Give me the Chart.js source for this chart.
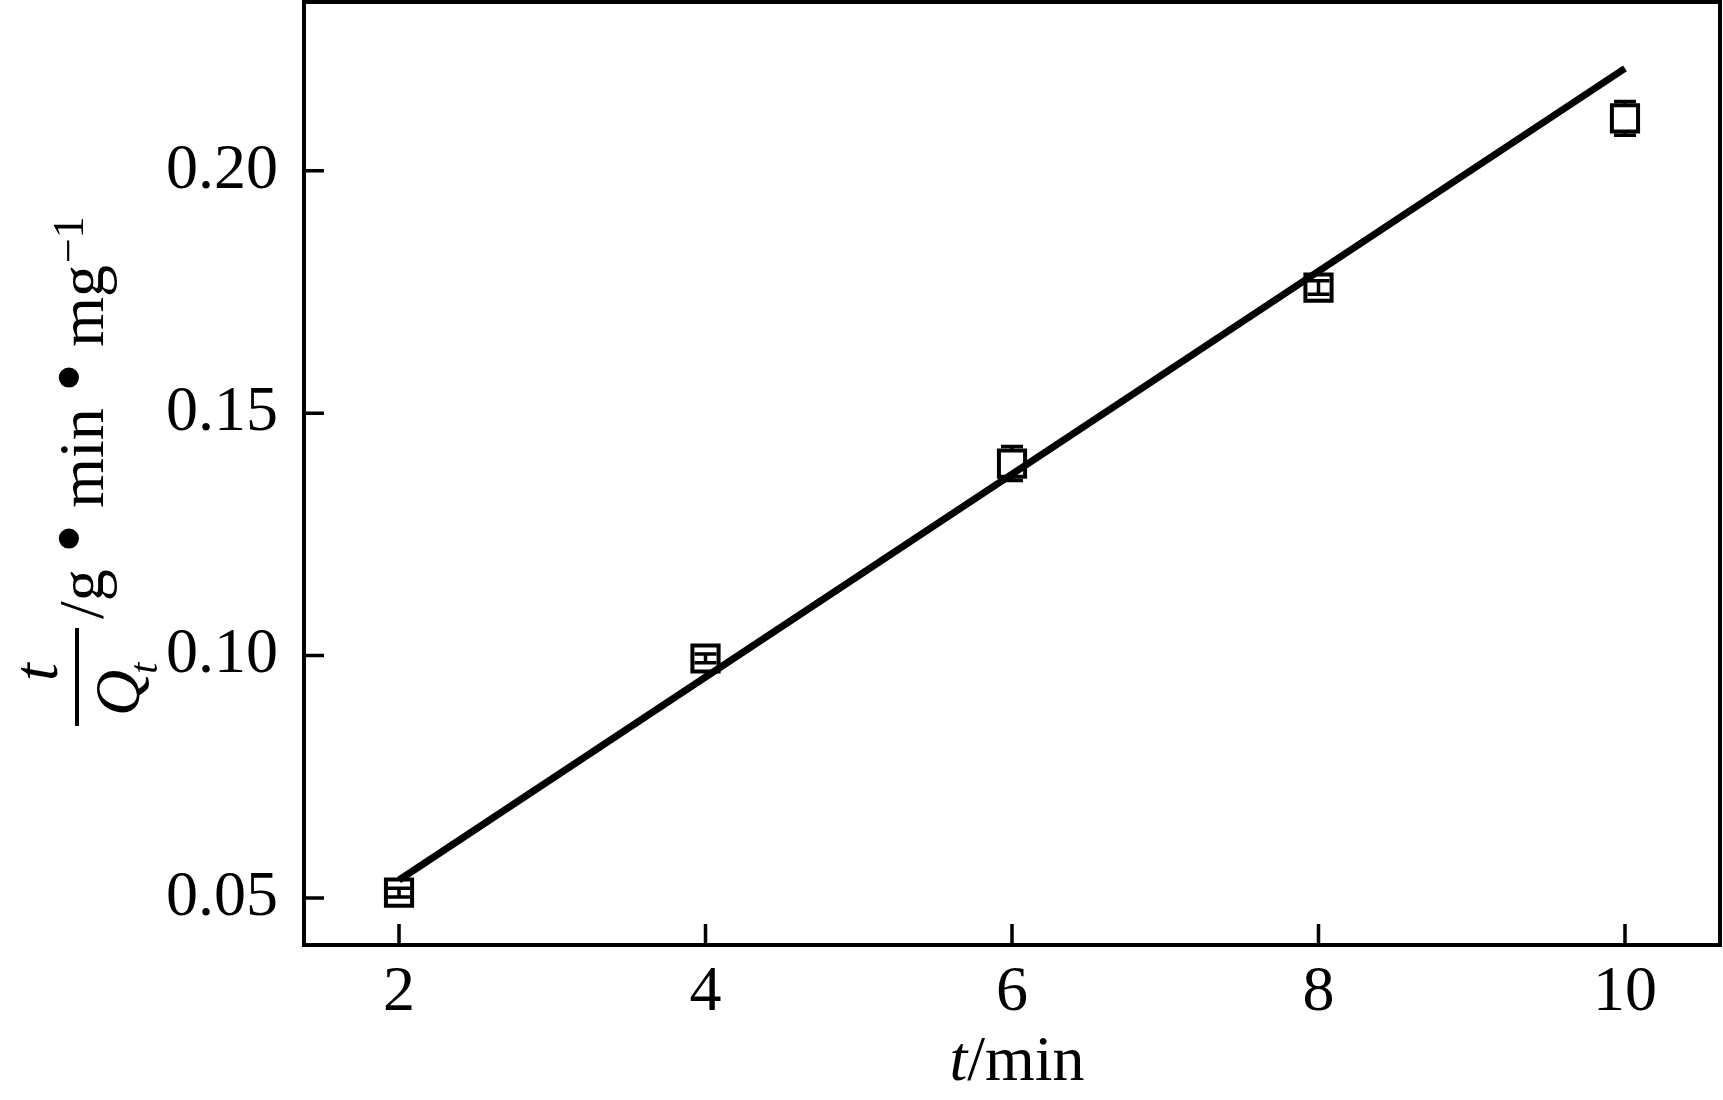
<!DOCTYPE html>
<html lang="en">
<head>
<meta charset="UTF-8">
<title>t/Qt vs t</title>
<script src="https://cdn.jsdelivr.net/npm/chart.js"></script>
<style>
  html, body { margin: 0; padding: 0; background: #fff; }
  #wrap { width: 1723px; height: 1100px; }
</style>
</head>
<body>
<div id="wrap"><canvas id="chart"></canvas></div>
<script>
// measured points with error bars
const times = [2, 4, 6, 8, 10];
const ratio = [0.0511, 0.0994, 0.1396, 0.1759, 0.2108];
const ratioErr = [0.0009, 0.0009, 0.0035, 0.0014, 0.0035];
// fitted straight line
const fitX = [2, 10];
const fitY = [0.0537, 0.2211];
// tick values
const xTicks = [2, 4, 6, 8, 10];
const yTicks = [0.05, 0.10, 0.15, 0.20];

const FONT = '"Liberation Serif", "Times New Roman", serif';

// frame, inward ticks, error bars and the two axis titles
const decorPlugin = {
    id: 'decor',
    afterDatasetsDraw(chart) {
        const ctx = chart.ctx;
        const a = chart.chartArea;
        const xs = chart.scales.x, ys = chart.scales.y;
        ctx.save();
        ctx.strokeStyle = '#000';
        ctx.fillStyle = '#000';

        // error bars
        const half = 13;
        ctx.lineWidth = 3.5;
        times.forEach((t, i) => {
            const px = xs.getPixelForValue(t);
            const py = ys.getPixelForValue(ratio[i]);
            const e = Math.abs(ys.getPixelForValue(ratio[i] + ratioErr[i]) - py);
            ctx.beginPath();
            if (e > half) {
                ctx.moveTo(px, py - e); ctx.lineTo(px, py - half);
                ctx.moveTo(px, py + half); ctx.lineTo(px, py + e);
            } else {
                ctx.moveTo(px, py - e); ctx.lineTo(px, py + e);
            }
            ctx.moveTo(px - 11, py - e); ctx.lineTo(px + 11, py - e);
            ctx.moveTo(px - 11, py + e); ctx.lineTo(px + 11, py + e);
            ctx.stroke();
        });

        // frame
        ctx.lineWidth = 4;
        ctx.strokeRect(a.left, a.top, a.right - a.left, a.bottom - a.top);

        // inward ticks
        ctx.lineWidth = 3.5;
        ctx.beginPath();
        xTicks.forEach(v => {
            const px = xs.getPixelForValue(v);
            ctx.moveTo(px, a.bottom); ctx.lineTo(px, a.bottom - 21);
        });
        yTicks.forEach(v => {
            const py = ys.getPixelForValue(v);
            ctx.moveTo(a.left, py); ctx.lineTo(a.left + 20, py);
        });
        ctx.stroke();

        // x title: t/min
        ctx.textBaseline = 'alphabetic';
        ctx.textAlign = 'left';
        ctx.font = 'italic 64px ' + FONT;
        const wT = ctx.measureText('t').width;
        ctx.font = '64px ' + FONT;
        const wRest = ctx.measureText('/min').width;
        let x0 = 1017 - (wT + wRest) / 2;
        ctx.font = 'italic 64px ' + FONT;
        ctx.fillText('t', x0, 1080);
        ctx.font = '64px ' + FONT;
        ctx.fillText('/min', x0 + wT, 1080);

        // y title: (t / Qt) /g • min • mg-1, rotated
        ctx.translate(77, 726);
        ctx.rotate(-Math.PI / 2);
        ctx.fillRect(0, -2, 98, 4);
        ctx.font = 'italic 64px ' + FONT;
        ctx.textAlign = 'center';
        ctx.fillText('t', 54, -20);
        ctx.textAlign = 'left';
        ctx.fillText('Q', 10, 62);
        const wQ = ctx.measureText('Q').width;
        ctx.font = 'italic 40px ' + FONT;
        ctx.fillText('t', 10 + wQ - 4, 80);
        // unit pieces, with larger bullets
        const parts = [['/g ', 64, 0], ['\u2022', 84, -6], [' min ', 64, 0], ['\u2022', 84, -6], [' mg', 64, 0]];
        let u = 107;
        parts.forEach(p => {
            ctx.font = p[1] + 'px ' + FONT;
            ctx.fillText(p[0], u, 26 + p[2]);
            u += ctx.measureText(p[0]).width;
        });
        ctx.font = '44px ' + FONT;
        ctx.fillText('\u22121', u + 2, 6);
        ctx.restore();
    }
};

new Chart(document.getElementById('chart'), {
    type: 'scatter',
    data: {
        datasets: [{
            type: 'line',
            data: fitX.map((x, i) => ({ x: x, y: fitY[i] })),
            borderColor: '#000',
            borderWidth: 7,
            pointRadius: 0,
            fill: false,
            order: 1
        }, {
            type: 'scatter',
            data: times.map((t, i) => ({ x: t, y: ratio[i] })),
            pointStyle: 'rect',
            pointRadius: 18.5,
            pointBorderWidth: 4,
            pointBorderColor: '#000',
            pointBackgroundColor: 'rgba(0,0,0,0)',
            order: 2
        }]
    },
    options: {
        responsive: true,
        maintainAspectRatio: false,
        animation: false,
        layout: { autoPadding: false, padding: { left: 0, right: 3, top: 2, bottom: 0 } },
        plugins: { legend: { display: false }, tooltip: { enabled: false } },
        scales: {
            x: {
                type: 'linear',
                min: 1.38,
                max: 10.62,
                grid: { display: false, drawTicks: false },
                border: { display: false },
                afterBuildTicks: s => { s.ticks = xTicks.map(v => ({ value: v })); },
                afterFit: s => { s.height = 155; s.paddingLeft = 0; s.paddingRight = 0; },
                ticks: {
                    autoSkip: false,
                    maxRotation: 0,
                    padding: 10,
                    color: '#000',
                    font: { family: FONT, size: 64 },
                    callback: v => String(v)
                }
            },
            y: {
                type: 'linear',
                min: 0.0403,
                max: 0.2348,
                grid: { display: false, drawTicks: false },
                border: { display: false },
                afterBuildTicks: s => { s.ticks = yTicks.map(v => ({ value: v })); },
                afterFit: s => { s.width = 304; s.paddingTop = 0; s.paddingBottom = 0; },
                ticks: {
                    autoSkip: false,
                    padding: 26,
                    color: '#000',
                    font: { family: FONT, size: 64 },
                    callback: v => v.toFixed(2)
                }
            }
        }
    },
    plugins: [decorPlugin]
});
</script>
</body>
</html>
